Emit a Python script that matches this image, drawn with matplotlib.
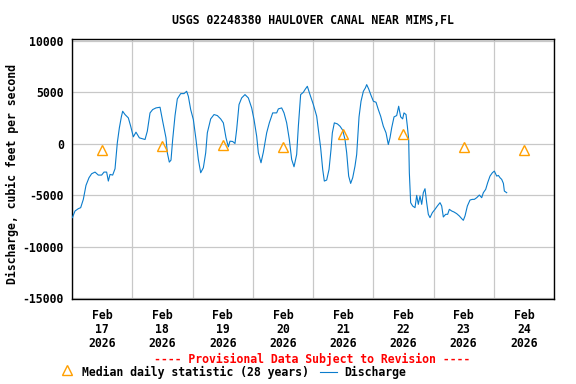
import matplotlib
matplotlib.use("Agg")
import matplotlib.pyplot as plt
import matplotlib.dates as mdates
from matplotlib.lines import Line2D
import pandas as pd

# ---- data ----
start = pd.Timestamp("2026-02-17")
# discharge: day offset from Feb 17 00:00 and value in cfs
q_days = [0.006, 0.050, 0.105, 0.144, 0.188, 0.232, 0.282, 0.326, 0.382, 0.437,
          0.492, 0.531, 0.575, 0.603, 0.631, 0.675, 0.714, 0.752, 0.786, 0.819,
          0.841, 0.880, 0.935, 0.974, 1.018, 1.062, 1.118, 1.212, 1.250, 1.295,
          1.339, 1.394, 1.461, 1.505, 1.560, 1.582, 1.615, 1.643, 1.671, 1.710,
          1.748, 1.804, 1.859, 1.903, 1.931, 1.970, 2.014, 2.058, 2.097, 2.136,
          2.180, 2.219, 2.246, 2.302, 2.357, 2.412, 2.467, 2.512, 2.556, 2.595,
          2.622, 2.667, 2.705, 2.733, 2.772, 2.816, 2.871, 2.927, 2.982, 3.021,
          3.065, 3.093, 3.137, 3.176, 3.231, 3.275, 3.331, 3.397, 3.425, 3.480,
          3.519, 3.563, 3.607, 3.646, 3.685, 3.729, 3.757, 3.795, 3.840, 3.867,
          3.906, 3.950, 4.006, 4.061, 4.089, 4.127, 4.161, 4.188, 4.227, 4.266,
          4.299, 4.321, 4.354, 4.404, 4.448, 4.493, 4.531, 4.559, 4.592, 4.625,
          4.659, 4.697, 4.725, 4.764, 4.797, 4.836, 4.869, 4.891, 4.924, 4.958,
          5.002, 5.046, 5.084, 5.123, 5.167, 5.212, 5.250, 5.278, 5.306, 5.345,
          5.389, 5.422, 5.455, 5.488, 5.510, 5.544, 5.566, 5.588, 5.599, 5.621,
          5.654, 5.693, 5.721, 5.748, 5.776, 5.804, 5.831, 5.859, 5.887, 5.914,
          5.942, 5.981, 6.025, 6.064, 6.108, 6.136, 6.163, 6.202, 6.235, 6.263,
          6.302, 6.340, 6.385, 6.429, 6.468, 6.495, 6.523, 6.562, 6.606, 6.645,
          6.678, 6.717, 6.761, 6.800, 6.827, 6.866, 6.899, 6.938, 6.977, 7.010,
          7.049, 7.077, 7.104, 7.132, 7.160, 7.176, 7.215]
q_vals = [-7184, -6537, -6310, -6213, -5404, -4045, -3300, -2912, -2750, -3042,
          -3042, -2750, -2750, -3624, -2977, -3042, -2427, 97, 1553, 2621,
          3171, 2848, 2524, 1715, 680, 1133, 582, 420, 1230, 3009,
          3333, 3495, 3560, 2200, 582, -874, -1780, -1586, 420, 2750,
          4369, 4886, 4886, 5113, 4628, 3333, 2362, 420, -1521, -2815,
          -2330, -874, 1068, 2427, 2848, 2750, 2427, 2039, 582, -291,
          259, 227, 32, 1391, 3818, 4466, 4789, 4466, 3495, 2362,
          744, -874, -1845, -809, 1068, 2039, 3009, 3009, 3398, 3495,
          3009, 2039, 420, -1521, -2233, -1036, 1715, 4789, 5016, 5275,
          5598, 4789, 3818, 2686, 1391, -388, -2492, -3624, -3527, -2492,
          -550, 1068, 2039, 1942, 1715, 1327, 420, -874, -3139, -3851,
          -3300, -2168, -1036, 2621, 4142, 5113, 5436, 5760, 5340, 4789,
          4142, 4045, 3333, 2686, 1715, 1068, -65, 582, 1553, 2621,
          2750, 3657, 2621, 2427, 3009, 2848, 1715, 420, -2815, -5728,
          -6051, -6213, -5016, -5890, -5080, -5890, -4757, -4369, -5728, -6860,
          -7184, -6698, -6375, -6051, -5728, -6051, -7119, -6860, -6860, -6375,
          -6537, -6634, -6796, -7022, -7281, -7443, -7022, -6051, -5469, -5404,
          -5404, -5242, -4983, -5242, -4757, -4433, -3786, -3139, -2815, -2653,
          -3139, -3074, -3300, -3462, -3851, -4595, -4757]
# median daily statistic (plotted at noon of each day)
med_days = [0.5, 1.5, 2.5, 3.5, 4.5, 5.5, 6.5, 7.5]
med_vals = [-600, -230, -130, -290, 970, 970, -320, -610]

title = "USGS 02248380 HAULOVER CANAL NEAR MIMS,FL"
ylabel = "Discharge, cubic feet per second"
yticks = [-15000, -10000, -5000, 0, 5000, 10000]

# ---- figure ----
FONT = "DejaVu Sans Mono"
FS = 8.3
BLUE = "#0a7ccc"
ORANGE = "#ff9f00"
plt.rcParams["font.family"] = FONT
plt.rcParams["font.weight"] = "bold"

fig = plt.figure(figsize=(5.76, 3.84), dpi=100)
W, H = 576, 384
ax = fig.add_axes([72 / W, 1 - 299 / H, (554 - 72) / W, (299 - 39) / H])

q_t = start + pd.to_timedelta(q_days, unit="D")
m_t = start + pd.to_timedelta(med_days, unit="D")
ax.plot(q_t, q_vals, color=BLUE, lw=0.8, zorder=3)
ax.plot(m_t, med_vals, linestyle="none", marker="^", markersize=7.5,
        markerfacecolor="none", markeredgecolor=ORANGE, markeredgewidth=1.0, zorder=4)

ax.set_xlim(start, start + pd.Timedelta(days=8))
ax.set_ylim(-15100, 10200)
ax.set_yticks(yticks)
ax.set_yticklabels([str(v) for v in yticks], fontsize=FS, fontweight="bold")

ax.xaxis.set_major_locator(mdates.DayLocator())
ax.xaxis.set_major_formatter(plt.NullFormatter())
ax.xaxis.set_minor_locator(mdates.HourLocator(byhour=[12]))
ax.xaxis.set_minor_formatter(mdates.DateFormatter("%b\n%d\n%Y"))
for lab in ax.xaxis.get_minorticklabels():
    lab.set_fontsize(FS)
    lab.set_fontweight("bold")
    lab.set_linespacing(1.12)

ax.tick_params(axis="both", which="both", length=0)
ax.tick_params(axis="y", pad=6)
ax.tick_params(axis="x", which="minor", pad=7)
ax.grid(True, which="major", color="#c8c8c8", lw=0.9, zorder=0)
ax.set_axisbelow(True)
for s in ax.spines.values():
    s.set_linewidth(1.0)
    s.set_color("black")

fig.text(313 / W, 1 - 20 / H, title, ha="center", va="center", fontsize=FS, fontweight="bold")
fig.text(12 / W, 1 - 174 / H, ylabel, ha="center", va="center", rotation=90,
         fontsize=FS, fontweight="bold")
fig.text(312 / W, 1 - 359 / H, "---- Provisional Data Subject to Revision ----",
         ha="center", va="center", color="red", fontsize=FS, fontweight="bold")

# legend row
ly = 1 - 372 / H
fig.add_artist(Line2D([67 / W], [1 - 370 / H], transform=fig.transFigure, linestyle="none",
                      marker="^", markersize=7.5, markerfacecolor="none",
                      markeredgecolor=ORANGE, markeredgewidth=1.0))
fig.text(82 / W, ly, "Median daily statistic (28 years)", ha="left", va="center",
         fontsize=FS, fontweight="bold")
fig.add_artist(Line2D([320 / W, 337 / W], [ly, ly], transform=fig.transFigure,
                      color=BLUE, lw=0.8))
fig.text(344 / W, ly, "Discharge", ha="left", va="center", fontsize=FS, fontweight="bold")

fig.savefig("out.png", dpi=100)
